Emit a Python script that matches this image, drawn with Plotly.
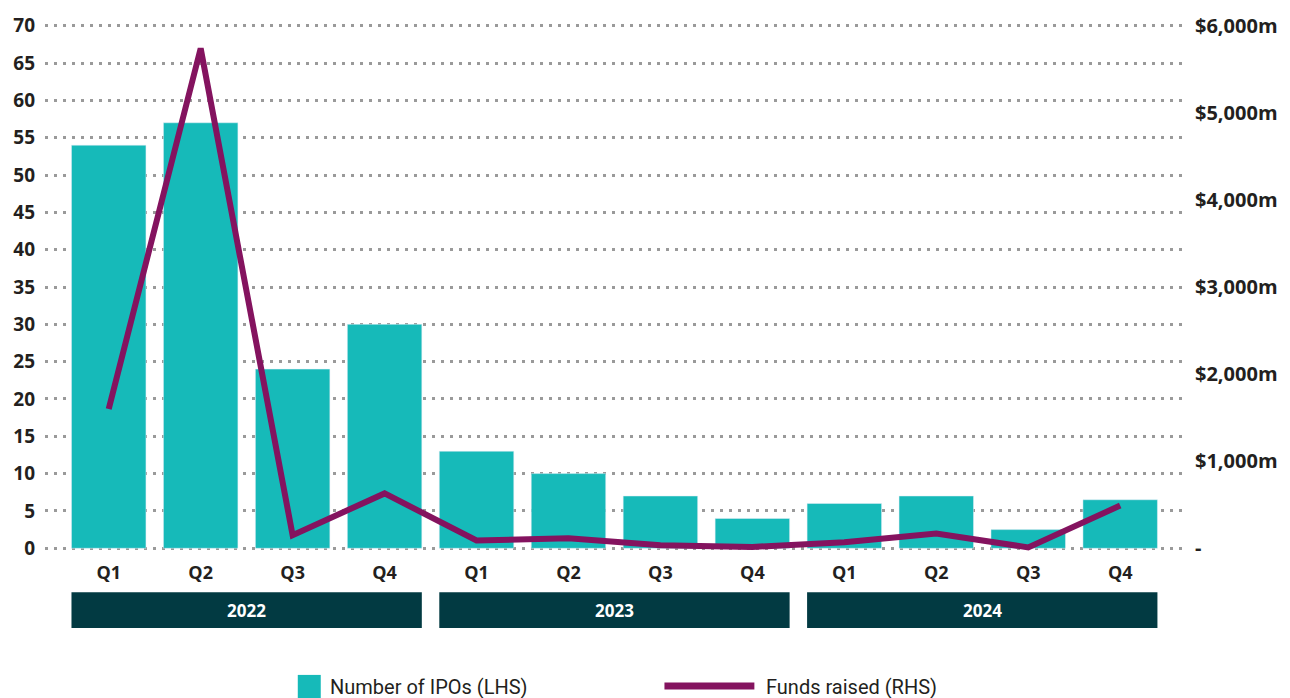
import plotly.graph_objects as go

quarters = ["Q1", "Q2", "Q3", "Q4", "Q1", "Q2", "Q3", "Q4", "Q1", "Q2", "Q3", "Q4"]
years = ["2022", "2022", "2022", "2022", "2023", "2023", "2023", "2023", "2024", "2024", "2024", "2024"]
ipo_counts = [54, 57, 24, 30, 13, 10, 7, 4, 6, 7, 2.5, 6.5]
funds_raised = [1600, 5740, 150, 630, 90, 115, 35, 15, 70, 170, 10, 490]

left_ticks = list(range(0, 75, 5))
right_ticks = [0, 1000, 2000, 3000, 4000, 5000, 6000]
right_labels = ["-", "$1,000m", "$2,000m", "$3,000m", "$4,000m", "$5,000m", "$6,000m"]

BAR = "#16BAB9"
LINE = "#84135F"
BAND = "#023A42"
FONT = "Open Sans"
TXT = "#231F20"

x = list(range(len(quarters)))

fig = go.Figure()
fig.add_trace(go.Bar(x=x, y=ipo_counts, marker_color=BAR, name="Number of IPOs (LHS)",
                     showlegend=False))
fig.add_trace(go.Scatter(x=x, y=funds_raised, yaxis="y2", mode="lines",
                         line=dict(color=LINE, width=6), name="Funds raised (RHS)",
                         showlegend=False))

# plot box: y=0 at 548px, y=70 at 24px; extended by eps so edge gridlines show
eps = 0.5
ppu = 524 / 70
top_m = 24 - eps * ppu
plot_h = 524 + 2 * eps * ppu
bot_m = 698 - top_m - plot_h


def py(pix):
    return (698 - bot_m - pix) / plot_h


# year bands
unique_years = []
for yv in years:
    if yv not in unique_years:
        unique_years.append(yv)
for yv in unique_years:
    idx = [i for i, v in enumerate(years) if v == yv]
    x0 = idx[0] - 0.405
    x1 = idx[-1] + 0.405
    fig.add_shape(type="rect", xref="x", yref="paper", x0=x0, x1=x1,
                  y0=py(628), y1=py(592), fillcolor=BAND, line_width=0, layer="above")
    fig.add_annotation(xref="x", yref="paper", x=(x0 + x1) / 2, y=py(610), yanchor="middle",
                       text=yv, showarrow=False,
                       font=dict(family=FONT, size=17, color="white", weight="bold"))

# custom legend
plot_w = 1290 - 45 - 105


def px(pix):
    return (pix - 45) / plot_w


fig.add_shape(type="rect", xref="paper", yref="paper", x0=px(298), x1=px(321),
              y0=py(700), y1=py(675), fillcolor=BAR, line_width=0)
fig.add_annotation(xref="paper", yref="paper", x=px(328), y=py(687), xanchor="left",
                   yanchor="middle", text="Number of IPOs (LHS)", showarrow=False,
                   font=dict(family="Roboto", size=20, color=TXT))
fig.add_shape(type="line", xref="paper", yref="paper", x0=px(665), x1=px(755),
              y0=py(686), y1=py(686), line=dict(color=LINE, width=7))
fig.add_annotation(xref="paper", yref="paper", x=px(765), y=py(687), xanchor="left",
                   yanchor="middle", text="Funds raised (RHS)", showarrow=False,
                   font=dict(family="Roboto", size=20, color=TXT))

fig.update_layout(
    width=1290, height=698,
    margin=dict(l=45, r=105, t=top_m, b=bot_m),
    plot_bgcolor="white", paper_bgcolor="white",
    bargap=0.19,
    xaxis=dict(tickmode="array", tickvals=x, ticktext=quarters, range=[-0.693, 11.694],
               showgrid=False, zeroline=False, showline=False,
               ticks="outside", ticklen=4, tickcolor="rgba(0,0,0,0)",
               tickfont=dict(family=FONT, size=18, color=TXT, weight="bold")),
    yaxis=dict(range=[-eps, 70 + eps], tickmode="array", tickvals=left_ticks,
               showgrid=True, gridcolor="#9a9a9a", gridwidth=2.5, griddash="2.5px,6.5px",
               zeroline=False, showline=False, ticklabelstandoff=9,
               tickfont=dict(family=FONT, size=19, color=TXT, weight="bold")),
    yaxis2=dict(range=[-eps * 6000 / 70, 6000 + eps * 6000 / 70], overlaying="y", side="right",
                tickmode="array", tickvals=right_ticks, ticktext=right_labels, showgrid=False,
                zeroline=False, showline=False, ticklabelstandoff=10,
                tickfont=dict(family=FONT, size=20, color=TXT, weight="bold")),
)

fig.write_html("out.html", config={"displayModeBar": False},
               post_script="document.body.style.margin='0';")
